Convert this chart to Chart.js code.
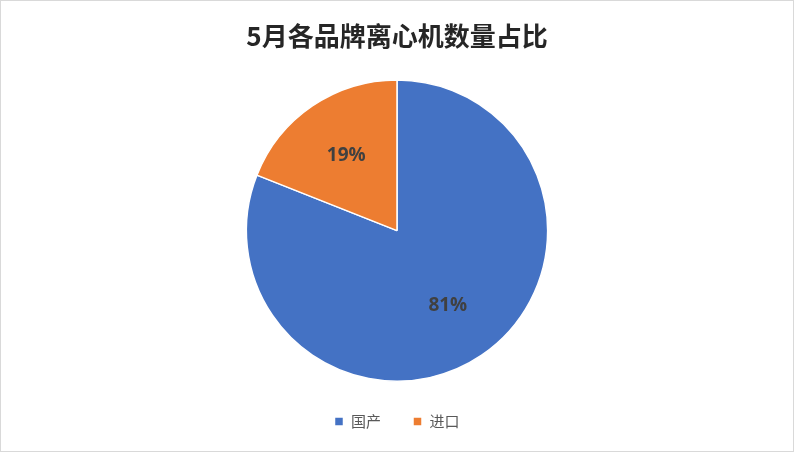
<!DOCTYPE html>
<html><head><meta charset="utf-8">
<script src="https://cdn.jsdelivr.net/npm/chart.js@4"></script>
<style>html,body{margin:0;padding:0;background:#fff}#w{width:792px;height:450px;border:1px solid #d9d9d9;position:relative}</style>
</head><body><div id="w"><canvas id="c"></canvas></div>
<script>
const categories = ["国产", "进口"];
const values = [81, 19];
const colors = ["#4472C4", "#ED7D31"];
const titleText = "5月各品牌离心机数量占比";

const labelPlugin = {
  id: 'pctLabels',
  afterDatasetsDraw(chart) {
    const ctx = chart.ctx;
    const meta = chart.getDatasetMeta(0);
    const total = values.reduce((a, b) => a + b, 0);
    ctx.save();
    ctx.font = 'bold 19px "Open Sans", "Noto Sans CJK SC"';
    ctx.fillStyle = '#404040';
    ctx.textAlign = 'center'; ctx.textBaseline = 'middle';
    meta.data.forEach((arc, i) => {
      const p = arc.getProps(['x','y','startAngle','endAngle','outerRadius'], true);
      const a = (p.startAngle + p.endAngle) / 2;
      const r = p.outerRadius * 0.6;
      ctx.fillText(Math.round(values[i] / total * 100) + '%', p.x + Math.cos(a) * r, p.y + Math.sin(a) * r);
    });
    ctx.restore();
  }
};

new Chart(document.getElementById('c'), {
  type: 'pie',
  data: { labels: categories, datasets: [{ data: values, backgroundColor: colors, borderColor: '#fff', borderWidth: 1.5 }] },
  plugins: [labelPlugin],
  options: {
    responsive: true, maintainAspectRatio: false, animation: false,
    layout: { padding: { top: 6, bottom: 12 } },
    plugins: {
      tooltip: { enabled: false },
      title: { display: true, text: titleText, color: '#262626',
        font: { size: 26, weight: 'bold', family: '"Noto Sans CJK SC"' }, padding: { top: 14, bottom: 27 } },
      legend: { position: 'bottom',
        labels: { color: '#595959', boxWidth: 9, boxHeight: 9, padding: 32,
          font: { size: 15, family: '"Noto Sans CJK SC"' } } }
    }
  }
});
</script></body></html>
